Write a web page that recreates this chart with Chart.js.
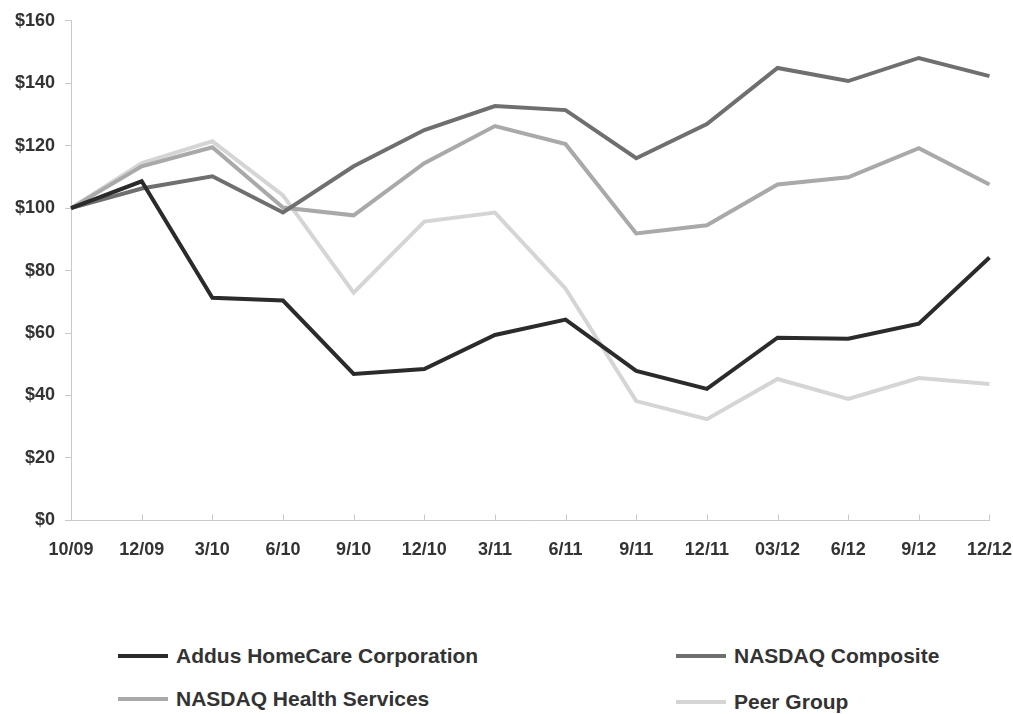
<!DOCTYPE html>
<html>
<head>
<meta charset="utf-8">
<script src="https://cdn.jsdelivr.net/npm/chart.js@4"></script>
<style>
  body { margin: 0; background: #fff; font-family: "Liberation Sans", Arial, sans-serif; }
  #wrap { position: relative; width: 1013px; height: 714px; overflow: hidden; }
  #chartBox { position: absolute; left: 0; top: 0; width: 1031px; height: 580px; }
  .legend-item { position: absolute; display: flex; align-items: center; font-weight: bold; font-size: 21px; color: #333; white-space: nowrap; }
  .legend-item .swatch { width: 50px; height: 4px; margin-right: 8px; }
</style>
</head>
<body>
<div id="wrap">
  <div id="chartBox"><canvas id="perfChart"></canvas></div>
</div>
<script>
// Data
const periods = ["10/09", "12/09", "3/10", "6/10", "9/10", "12/10", "3/11", "6/11", "9/11", "12/11", "03/12", "6/12", "9/12", "12/12"];
const addusValues = [100, 108.6, 71.3, 70.4, 46.9, 48.5, 59.4, 64.3, 47.9, 42.1, 58.5, 58.2, 63.0, 84.2];
const nasdaqCompositeValues = [100, 106.3, 110.2, 98.6, 113.4, 125.0, 132.7, 131.4, 116.0, 126.9, 144.9, 140.7, 148.1, 142.3];
const healthServicesValues = [100, 113.4, 119.5, 100.2, 97.7, 114.4, 126.3, 120.5, 91.9, 94.5, 107.6, 109.9, 119.2, 107.6];
const peerGroupValues = [100, 114.4, 121.4, 104.1, 72.9, 95.7, 98.6, 74.2, 38.2, 32.4, 45.3, 38.9, 45.6, 43.7];
const seriesNames = ["Addus HomeCare Corporation", "NASDAQ Composite", "NASDAQ Health Services", "Peer Group"];
const seriesColors = ["#2b2b2b", "#6f6f6f", "#a9a9a9", "#d5d5d5"];

const AXIS_COLOR = "#c9c9c9";
const TEXT_COLOR = "#333";

// inward tick marks on the x axis
const xTickMarks = {
  id: "xTickMarks",
  afterDraw(chart) {
    const x = chart.scales.x;
    const ctx = chart.ctx;
    const bottom = chart.chartArea.bottom;
    ctx.save();
    ctx.strokeStyle = AXIS_COLOR;
    ctx.lineWidth = 1;
    x.ticks.forEach((t, i) => {
      const px = Math.round(x.getPixelForTick(i)) + 0.5;
      ctx.beginPath();
      ctx.moveTo(px, bottom);
      ctx.lineTo(px, bottom - 6);
      ctx.stroke();
    });
    ctx.restore();
  }
};

const allSeries = [addusValues, nasdaqCompositeValues, healthServicesValues, peerGroupValues];

new Chart(document.getElementById("perfChart"), {
  type: "line",
  data: {
    labels: periods,
    datasets: allSeries.map((vals, i) => ({
      label: seriesNames[i],
      data: vals,
      borderColor: seriesColors[i],
      backgroundColor: seriesColors[i],
      borderWidth: 4,
      pointRadius: 0,
      tension: 0,
      borderJoinStyle: "miter"
    }))
  },
  options: {
    responsive: true,
    maintainAspectRatio: false,
    animation: false,
    layout: { padding: { left: 5, top: 18, right: 0, bottom: 0 } },
    plugins: {
      legend: { display: false },
      tooltip: { enabled: false }
    },
    scales: {
      x: {
        offset: false,
        grid: { display: true, drawOnChartArea: false, drawTicks: false, color: AXIS_COLOR },
        border: { display: true, color: AXIS_COLOR, width: 1 },
        ticks: {
          padding: 19,
          color: TEXT_COLOR,
          maxRotation: 0,
          autoSkip: false,
          font: { family: "'Liberation Sans', Arial, sans-serif", size: 18, weight: "bold" }
        }
      },
      y: {
        min: 0,
        max: 160,
        grid: { drawOnChartArea: false, drawTicks: true, tickLength: 6, color: AXIS_COLOR },
        border: { display: true, color: AXIS_COLOR, width: 1 },
        ticks: {
          stepSize: 20,
          padding: 10,
          color: TEXT_COLOR,
          font: { family: "'Liberation Sans', Arial, sans-serif", size: 18, weight: "bold" },
          callback: v => "$" + v
        }
      }
    }
  },
  plugins: [xTickMarks]
});

// HTML legend laid out in two columns like the reference
const legendSpots = [
  { left: 118, top: 657 },
  { left: 676, top: 657 },
  { left: 118, top: 700 },
  { left: 676, top: 703 }
];
const wrap = document.getElementById("wrap");
seriesNames.forEach((name, i) => {
  const item = document.createElement("div");
  item.className = "legend-item";
  item.style.left = legendSpots[i].left + "px";
  item.style.top = (legendSpots[i].top - 13) + "px";
  item.innerHTML = `<span class="swatch" style="background:${seriesColors[i]}"></span><span>${name}</span>`;
  wrap.appendChild(item);
});
</script>
</body>
</html>
